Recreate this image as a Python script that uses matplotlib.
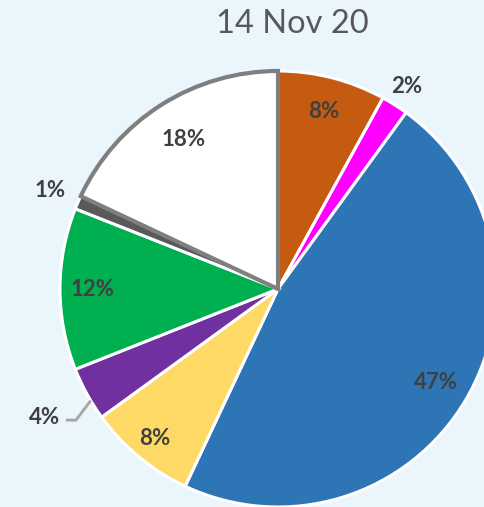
import numpy as np
import matplotlib
matplotlib.use('Agg')
import matplotlib.pyplot as plt

plt.rcParams['font.family'] = ['Lato', 'DejaVu Sans']

title = "14 Nov 20"
shares = [8, 2, 47, 8, 4, 12, 1, 18]
labels = ["8%", "2%", "47%", "8%", "4%", "12%", "1%", "18%"]
colors = ["#C55A11", "#FF00FF", "#2E75B6", "#FFD966", "#7030A0", "#00B050", "#595959", "#FFFFFF"]
# radial position of each label, as a fraction of the radius
label_dist = [0.84, 1.10, 0.84, 0.89, 1.22, 0.85, 1.14, 0.81]

bg = "#EAF5FC"
W, H = 485, 507
cx, cy, r = 278, H - 289, 218

fig = plt.figure(figsize=(W / 100, H / 100), dpi=100, facecolor=bg)
ax = fig.add_axes([0, 0, 1, 1])
ax.set_facecolor(bg)

wedges, _ = ax.pie(shares, colors=colors, startangle=90, counterclock=False,
                   center=(cx, cy), radius=r,
                   wedgeprops=dict(edgecolor="white", linewidth=2.2))
# white slice gets the grey outline
wedges[-1].set_edgecolor("#7F7F7F")
wedges[-1].set_linewidth(3)
wedges[-1].set_zorder(3)

for w, lab, f in zip(wedges, labels, label_dist):
    a = np.deg2rad((w.theta1 + w.theta2) / 2)
    x, y = cx + r * f * np.cos(a), cy + r * f * np.sin(a)
    ax.text(x, y, lab, ha="center", va="center", fontsize=16,
            fontweight="bold", color="#404040", zorder=5)

# leader line for the small purple slice
w = wedges[4]
mid = np.deg2rad((w.theta1 + w.theta2) / 2)
a = mid + np.deg2rad(2)
ex, ey = cx + r * np.cos(a), cy + r * np.sin(a)
tx, ty = cx + r * label_dist[4] * np.cos(mid), cy + r * label_dist[4] * np.sin(mid)
ax.plot([tx + 21, tx + 31, ex], [ty - 3, ty - 3, ey], color="#A6A6A6",
        linewidth=2, zorder=4, solid_capstyle="butt")

ax.text(292, H - 24, title, ha="center", va="center", fontsize=23.5,
        color="#595959")

ax.set_xlim(0, W)
ax.set_ylim(0, H)
ax.set_aspect("equal")
ax.axis("off")

fig.savefig("out.png", dpi=100, facecolor=bg)
